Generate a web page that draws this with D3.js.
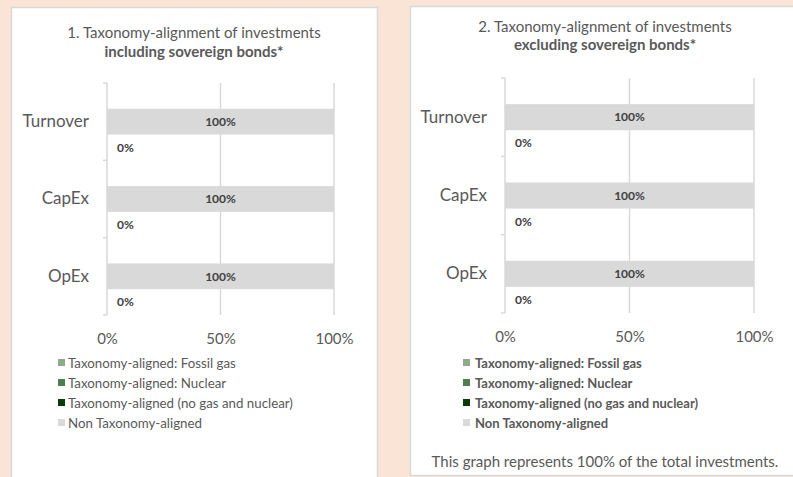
<!DOCTYPE html>
<html lang="en">
<head>
  <meta charset="utf-8">
  <title>Taxonomy-alignment of investments</title>
  <script src="https://d3js.org/d3.v7.min.js"></script>
  <style>
    body { margin: 0; background: #f9e4d5; }
    svg { display: block; font-family: Lato, "Open Sans", sans-serif; }
  </style>
</head>
<body>
  <svg id="chart" width="793" height="477"></svg>

  <script>
    // data
    const categories = ["Turnover", "CapEx", "OpEx"];
    const rowKeys = ["nonAligned", "aligned"];
    const xTicks = [0, 50, 100];

    // chart 1: including sovereign bonds
    const nonAlignedIncl = [100, 100, 100];
    const fossilGasIncl = [0, 0, 0];
    const nuclearIncl = [0, 0, 0];
    const otherAlignedIncl = [0, 0, 0];

    // chart 2: excluding sovereign bonds
    const nonAlignedExcl = [100, 100, 100];
    const fossilGasExcl = [0, 0, 0];
    const nuclearExcl = [0, 0, 0];
    const otherAlignedExcl = [0, 0, 0];

    const legendLabels = [
      "Taxonomy-aligned: Fossil gas",
      "Taxonomy-aligned: Nuclear",
      "Taxonomy-aligned (no gas and nuclear)",
      "Non Taxonomy-aligned"
    ];
    const legendColors = ["#8fab8c", "#4e7d50", "#0b3b0b", "#d9d9d9"];

    const svg = d3.select("#chart");
    const textColor = "#595959";
    const gridColor = "#d9d9d9";

    // white panels
    svg.append("rect")
        .attr("x", 11.5).attr("y", 7.5).attr("width", 366).attr("height", 480)
        .attr("fill", "#fff").attr("stroke", "#d9d9d9").attr("stroke-width", 1.5);
    svg.append("rect")
        .attr("x", 410.5).attr("y", 6.5).attr("width", 400).attr("height", 469)
        .attr("fill", "#fff").attr("stroke", "#d9d9d9").attr("stroke-width", 1.5);

    function drawChart(opt) {
      const g = svg.append("g");

      const x = d3.scaleLinear().domain([0, 100]).range([opt.left, opt.right]);
      const y = d3.scaleBand().domain(categories).range([opt.top, opt.bottom]);
      const bw = y.bandwidth();
      const inner = d3.scaleBand().domain(rowKeys).range([bw / 3, bw]);

      // title
      const title = g.append("text")
          .attr("text-anchor", "middle")
          .attr("fill", textColor)
          .style("font-size", "15px");
      title.append("tspan")
          .attr("x", opt.cx).attr("y", opt.titleY)
          .text(opt.title1);
      title.append("tspan")
          .attr("x", opt.cx).attr("y", opt.titleY + opt.titleGap)
          .style("font-weight", "bold")
          .text(opt.title2);

      // vertical grid lines
      g.append("g")
        .selectAll("line")
        .data(xTicks.slice(1))
        .join("line")
          .attr("x1", d => x(d)).attr("x2", d => x(d))
          .attr("y1", opt.top).attr("y2", opt.bottom)
          .attr("stroke", gridColor).attr("stroke-width", 1.5);

      // non aligned bars
      g.append("g")
        .selectAll("rect")
        .data(categories)
        .join("rect")
          .attr("x", x(0))
          .attr("y", d => y(d) + inner("nonAligned"))
          .attr("width", (d, i) => x(opt.nonAligned[i]) - x(0))
          .attr("height", inner.bandwidth())
          .attr("fill", legendColors[3]);

      g.append("g")
        .selectAll("text")
        .data(categories)
        .join("text")
          .attr("x", (d, i) => x(opt.nonAligned[i] / 2))
          .attr("y", d => y(d) + inner("nonAligned") + inner.bandwidth() / 2)
          .attr("dy", "0.35em")
          .attr("text-anchor", "middle")
          .attr("fill", "#404040")
          .style("font-size", "12px")
          .style("font-weight", "bold")
          .text((d, i) => opt.nonAligned[i] + "%");

      // aligned bars, stacked
      const rows = categories.map((c, i) => ({
        category: c,
        fossil: opt.fossil[i],
        nuclear: opt.nuclear[i],
        other: opt.other[i]
      }));
      const stack = d3.stack().keys(["fossil", "nuclear", "other"])(rows);
      g.append("g")
        .selectAll("g")
        .data(stack)
        .join("g")
          .attr("fill", (s, i) => legendColors[i])
        .selectAll("rect")
        .data(s => s)
        .join("rect")
          .attr("x", d => x(d[0]))
          .attr("y", d => y(d.data.category) + inner("aligned"))
          .attr("width", d => x(d[1]) - x(d[0]))
          .attr("height", inner.bandwidth());

      g.append("g")
        .selectAll("text")
        .data(rows)
        .join("text")
          .attr("x", x(0) + 10)
          .attr("y", d => y(d.category) + inner("aligned") + inner.bandwidth() / 2)
          .attr("dy", "0.35em")
          .attr("fill", "#404040")
          .style("font-size", "12px")
          .style("font-weight", "bold")
          .text(d => (d.fossil + d.nuclear + d.other) + "%");

      // y axis
      const yAxis = g.append("g")
          .attr("transform", `translate(${opt.left},0)`)
          .call(d3.axisLeft(y).tickSize(0).tickPadding(18));
      yAxis.select(".domain").remove();
      yAxis.selectAll("text")
          .attr("fill", textColor)
          .style("font-size", "17px")
          .style("font-family", "Lato, sans-serif");

      const bounds = categories.map(c => y(c)).concat([opt.bottom]);
      g.append("line")
          .attr("x1", opt.left).attr("x2", opt.left)
          .attr("y1", opt.top).attr("y2", opt.bottom)
          .attr("stroke", gridColor).attr("stroke-width", 1.5);
      g.append("g")
        .selectAll("line")
        .data(bounds)
        .join("line")
          .attr("x1", opt.left - 4).attr("x2", opt.left)
          .attr("y1", d => d).attr("y2", d => d)
          .attr("stroke", gridColor).attr("stroke-width", 1.5);

      // x axis labels
      const xAxis = g.append("g")
          .attr("transform", `translate(0,${opt.bottom})`)
          .call(d3.axisBottom(x).tickValues(xTicks).tickSize(0).tickPadding(18)
            .tickFormat(d => d + "%"));
      xAxis.select(".domain").remove();
      xAxis.selectAll("text")
          .attr("fill", textColor)
          .style("font-size", "15px")
          .style("font-family", "Lato, sans-serif");

      // legend
      const legend = g.append("g")
        .selectAll("g")
        .data(legendLabels)
        .join("g")
          .attr("transform", (d, i) => `translate(${opt.legendX},${opt.legendY + i * 20})`);
      legend.append("rect")
          .attr("x", 0).attr("y", -4)
          .attr("width", 7).attr("height", 7)
          .attr("fill", (d, i) => legendColors[i]);
      legend.append("text")
          .attr("x", opt.legendText)
          .attr("dy", "0.35em")
          .attr("fill", textColor)
          .style("font-size", opt.legendBold ? "13px" : "13.3px")
          .style("font-weight", opt.legendBold ? "bold" : "normal")
          .text(d => d);
    }

    drawChart({
      title1: "1. Taxonomy-alignment of investments",
      title2: "including sovereign bonds*",
      cx: 194, titleY: 38, titleGap: 19,
      left: 107, right: 334, top: 83, bottom: 315,
      nonAligned: nonAlignedIncl, fossil: fossilGasIncl, nuclear: nuclearIncl, other: otherAlignedIncl,
      legendX: 58, legendY: 363, legendText: 10, legendBold: false
    });

    drawChart({
      title1: "2. Taxonomy-alignment of investments",
      title2: "excluding sovereign bonds*",
      cx: 605, titleY: 32, titleGap: 18,
      left: 505, right: 754, top: 78, bottom: 313,
      nonAligned: nonAlignedExcl, fossil: fossilGasExcl, nuclear: nuclearExcl, other: otherAlignedExcl,
      legendX: 463, legendY: 363, legendText: 12, legendBold: true
    });

    svg.append("text")
        .attr("x", 605).attr("y", 467)
        .attr("text-anchor", "middle")
        .attr("fill", textColor)
        .style("font-size", "15px")
        .text("This graph represents 100% of the total investments.");
  </script>
</body>
</html>
